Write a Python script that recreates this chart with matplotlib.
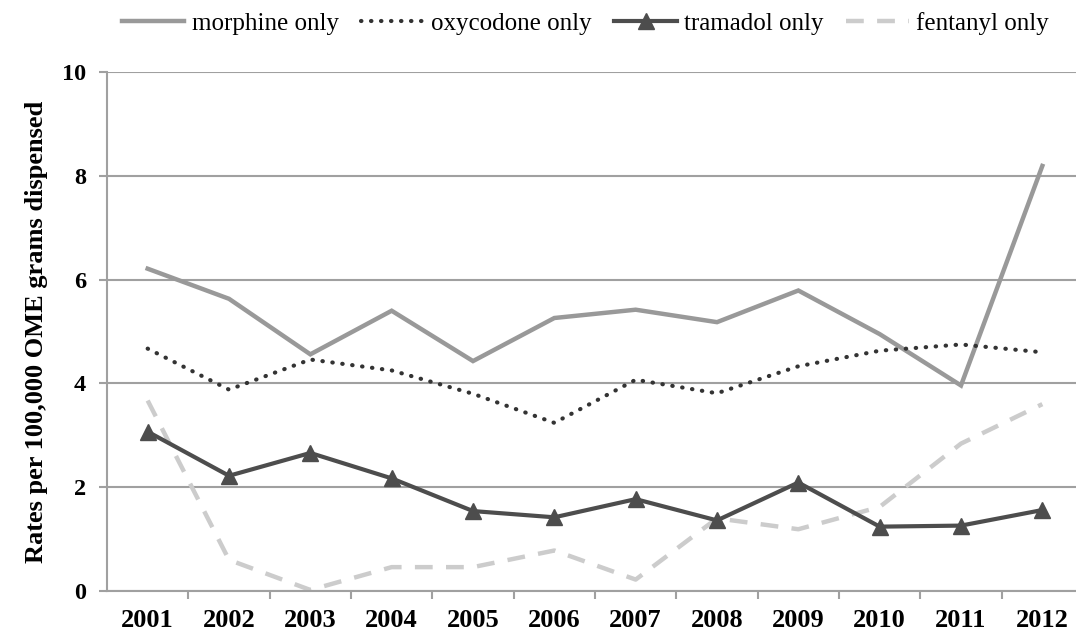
import matplotlib
matplotlib.use("Agg")
import matplotlib.pyplot as plt
import numpy as np

years = ["2001", "2002", "2003", "2004", "2005", "2006", "2007", "2008", "2009", "2010", "2011", "2012"]
morphine = [6.21, 5.63, 4.56, 5.40, 4.43, 5.26, 5.42, 5.18, 5.79, 4.95, 3.96, 8.19]
oxycodone = [4.67, 3.88, 4.46, 4.25, 3.80, 3.24, 4.07, 3.81, 4.33, 4.63, 4.75, 4.60]
tramadol = [3.07, 2.22, 2.66, 2.17, 1.54, 1.42, 1.77, 1.36, 2.09, 1.24, 1.26, 1.56]
fentanyl = [3.67, 0.60, 0.02, 0.46, 0.46, 0.78, 0.22, 1.40, 1.19, 1.62, 2.84, 3.60]
yticks = [0, 2, 4, 6, 8, 10]

plt.rcParams['font.family'] = ['Liberation Serif', 'DejaVu Serif']

W, H = 1076, 630
fig = plt.figure(figsize=(W / 100, H / 100), dpi=100)
ax = fig.add_axes([107 / W, (H - 591) / H, (1083 - 107) / W, (591 - 72) / H])

x = np.arange(len(years))
l1, = ax.plot(x, morphine, color='#999999', lw=3.2, solid_joinstyle='miter', label='morphine only', zorder=3)
l2, = ax.plot(x, oxycodone, color='#333333', lw=3.0, linestyle=(0, (0.1, 2.3)), dash_capstyle='round',
              label='oxycodone only', zorder=3)
l3, = ax.plot(x, tramadol, color='#4d4d4d', lw=3.0, marker='^', markersize=12, label='tramadol only', zorder=4)
l4, = ax.plot(x, fentanyl, color='#cccccc', lw=3.2, linestyle=(0, (4, 3)), label='fentanyl only', zorder=2)

ax.set_xlim(-0.5, len(years) - 0.5)
ax.set_ylim(0, 10)
ax.set_yticks(yticks)
ax.set_yticklabels([str(v) for v in yticks], fontsize=17.5, fontweight='bold')
ax.set_xticks(x)
ax.set_xticklabels(years, fontsize=19, fontweight='bold')
ax.set_xticks(np.arange(0.5, len(years) - 0.5, 1), minor=True)
ax.tick_params(axis='x', which='major', length=0, pad=13)
ax.tick_params(axis='x', which='minor', length=6, width=1.5, color='#a0a0a0')
ax.tick_params(axis='y', length=6, width=1.5, color='#a0a0a0', pad=9)

ax.grid(axis='y', color='#a0a0a0', lw=1.5, zorder=0)
for s in ['top', 'right']:
    ax.spines[s].set_visible(False)
for s in ['left', 'bottom']:
    ax.spines[s].set_color('#a0a0a0')
    ax.spines[s].set_linewidth(1.5)

ax.set_ylabel('Rates per 100,000 OME grams dispensed', fontsize=19, fontweight='bold', labelpad=10)

fig.legend(handles=[l1, l2, l3, l4], loc='center', bbox_to_anchor=(0.544, 0.963), ncol=4, frameon=False,
           fontsize=18, handlelength=2.5, columnspacing=0.9, handletextpad=0.3)

fig.savefig('out.png', dpi=100)
